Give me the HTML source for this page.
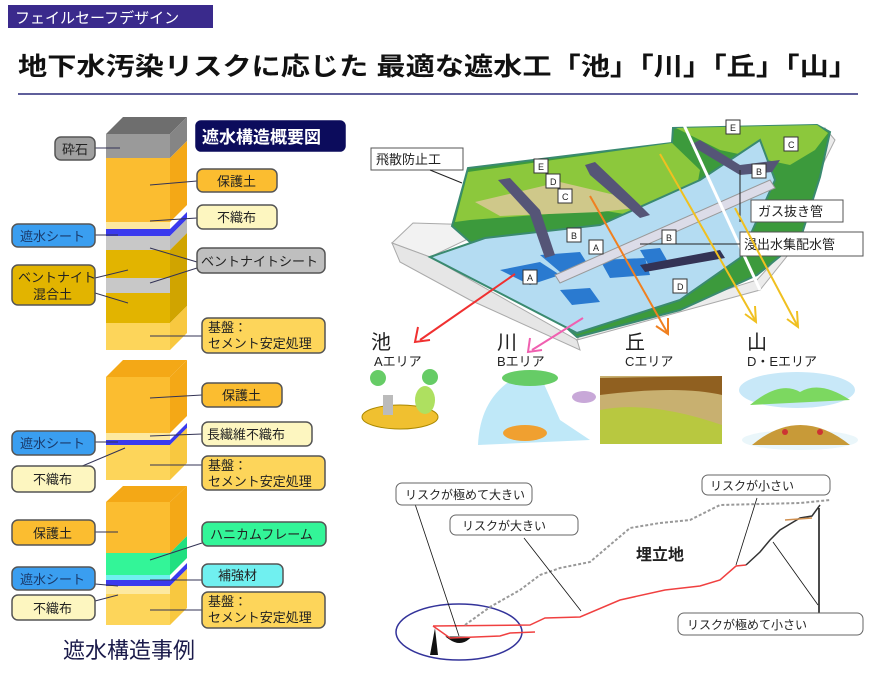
<!DOCTYPE html>
<html><head><meta charset="utf-8"><style>
body{margin:0;background:#fff}
svg text{font-family:"Liberation Sans","Noto Sans CJK JP",sans-serif}
</style></head><body>
<svg width="873" height="675" viewBox="0 0 873 675" xmlns="http://www.w3.org/2000/svg">
<rect x="8" y="5" width="205" height="23" fill="#3a2a8c"/>
<text x="15" y="23" font-size="15" fill="#fff">フェイルセーフデザイン</text>
<text x="18" y="75" font-size="25" font-weight="bold" fill="#111" textLength="840" lengthAdjust="spacingAndGlyphs">地下水汚染リスクに応じた 最適な遮水工「池」「川」「丘」「山」</text>
<line x1="18" y1="94" x2="858" y2="94" stroke="#2a2a7a" stroke-width="1.5"/>

<!-- Block 1 -->
<g>
<polygon points="106,134 123,117 187,117 170,134" fill="#6e6e6e"/>
<rect x="106" y="134" width="64" height="24" fill="#9a9a9a"/>
<polygon points="170,134 187,117 187,141 170,158" fill="#858585"/>
<rect x="106" y="158" width="64" height="64" fill="#fbbd30"/>
<polygon points="170,158 187,141 187,205 170,222" fill="#f4a816"/>
<rect x="106" y="222" width="64" height="7" fill="#fde9a0"/>
<rect x="106" y="229" width="64" height="7" fill="#3a3aee"/>
<polygon points="170,229 187,212 187,219 170,236" fill="#3a3aee"/>
<rect x="106" y="236" width="64" height="14" fill="#c8c8c8"/>
<polygon points="170,236 187,219 187,233 170,250" fill="#b8b8b8"/>
<rect x="106" y="250" width="64" height="28" fill="#e2b400"/>
<rect x="106" y="278" width="64" height="15" fill="#c8c8c8"/>
<rect x="106" y="293" width="64" height="30" fill="#e2b400"/>
<polygon points="170,250 187,233 187,306 170,323" fill="#d0a400"/>
<rect x="106" y="323" width="64" height="27" fill="#fdd55a"/>
<polygon points="170,323 187,306 187,333 170,350" fill="#f8c840"/>
</g>
<!-- Block 2 -->
<g>
<polygon points="106,377 123,360 187,360 170,377" fill="#f4a816"/>
<rect x="106" y="377" width="64" height="56" fill="#fbbd30"/>
<polygon points="170,377 187,360 187,416 170,433" fill="#f4a816"/>
<rect x="106" y="433" width="64" height="7" fill="#fde9a0"/>
<rect x="106" y="440" width="64" height="5" fill="#3a3aee"/>
<polygon points="170,440 187,423 187,428 170,445" fill="#3a3aee"/>
<rect x="106" y="445" width="64" height="35" fill="#fdd55a"/>
<polygon points="170,445 187,428 187,463 170,480" fill="#f8c840"/>
</g>
<!-- Block 3 -->
<g>
<polygon points="106,502 123,486 187,486 170,502" fill="#f4a816"/>
<rect x="106" y="502" width="64" height="51" fill="#fbbd30"/>
<polygon points="170,502 187,486 187,536 170,553" fill="#f4a816"/>
<rect x="106" y="553" width="64" height="22" fill="#33f598"/>
<polygon points="170,553 187,536 187,558 170,575" fill="#20e080"/>
<rect x="106" y="575" width="64" height="5" fill="#70f0f0"/>
<rect x="106" y="580" width="64" height="6" fill="#3a3aee"/>
<polygon points="170,580 187,563 187,569 170,586" fill="#3a3aee"/>
<rect x="106" y="586" width="64" height="8" fill="#fde9a0"/>
<rect x="106" y="594" width="64" height="31" fill="#fdd55a"/>
<polygon points="170,586 187,569 187,608 170,625" fill="#f8c840"/>
</g>

<g stroke="#333355" stroke-width="1" fill="none">
<line x1="95" y1="148" x2="120" y2="148"/>
<line x1="150" y1="185" x2="197" y2="181"/>
<line x1="150" y1="221" x2="197" y2="218"/>
<line x1="95" y1="235" x2="118" y2="235"/>
<line x1="150" y1="248" x2="197" y2="262"/>
<line x1="150" y1="283" x2="197" y2="268"/>
<line x1="95" y1="278" x2="128" y2="270"/>
<line x1="95" y1="293" x2="128" y2="303"/>
<line x1="150" y1="336" x2="202" y2="336"/>
<line x1="150" y1="398" x2="202" y2="395"/>
<line x1="150" y1="436" x2="202" y2="434"/>
<line x1="95" y1="442" x2="118" y2="442"/>
<line x1="80" y1="467" x2="125" y2="448"/>
<line x1="150" y1="465" x2="202" y2="465"/>
<line x1="95" y1="532" x2="118" y2="532"/>
<line x1="150" y1="560" x2="202" y2="543"/>
<line x1="150" y1="580" x2="202" y2="580"/>
<line x1="95" y1="584" x2="118" y2="586"/>
<line x1="95" y1="601" x2="118" y2="595"/>
<line x1="150" y1="610" x2="202" y2="610"/>
</g>

<g stroke="#555" stroke-width="1.5" font-size="13">
<rect x="55" y="137" width="40" height="23" rx="6" fill="#a0a0a0"/>
<rect x="196" y="121" width="149" height="30" rx="5" fill="#0c0c5c" stroke="#0c0c5c"/>
<rect x="197" y="169" width="80" height="23" rx="6" fill="#fbbd30"/>
<rect x="197" y="205" width="80" height="24" rx="6" fill="#fdf6c0"/>
<rect x="12" y="224" width="83" height="23" rx="6" fill="#3a9ef0"/>
<rect x="197" y="248" width="128" height="25" rx="6" fill="#bfbfbf"/>
<rect x="12" y="265" width="83" height="40" rx="6" fill="#e2b400"/>
<rect x="202" y="318" width="123" height="35" rx="6" fill="#fdd55a"/>
<rect x="202" y="383" width="80" height="24" rx="6" fill="#fbbd30"/>
<rect x="202" y="422" width="110" height="24" rx="6" fill="#fdf6c0"/>
<rect x="202" y="456" width="123" height="34" rx="6" fill="#fdd55a"/>
<rect x="12" y="431" width="83" height="24" rx="6" fill="#3a9ef0"/>
<rect x="12" y="466" width="83" height="26" rx="6" fill="#fdf6c0"/>
<rect x="12" y="520" width="83" height="25" rx="6" fill="#fbbd30"/>
<rect x="202" y="522" width="124" height="24" rx="6" fill="#33f598"/>
<rect x="202" y="564" width="81" height="23" rx="6" fill="#70f0f0"/>
<rect x="202" y="592" width="123" height="36" rx="6" fill="#fdd55a"/>
<rect x="12" y="567" width="83" height="23" rx="6" fill="#3a9ef0"/>
<rect x="12" y="595" width="83" height="25" rx="6" fill="#fdf6c0"/>
</g>
<g font-size="13" fill="#222">
<text x="62" y="154">砕石</text>
<text x="202" y="143" font-size="17" fill="#fff" font-weight="bold">遮水構造概要図</text>
<text x="217" y="186">保護土</text>
<text x="217" y="222">不織布</text>
<text x="20" y="241" fill="#1a3a6a">遮水シート</text>
<text x="201" y="266">ベントナイトシート</text>
<text x="18" y="282">ベントナイト</text>
<text x="33" y="299">混合土</text>
<text x="208" y="332">基盤：</text>
<text x="208" y="348">セメント安定処理</text>
<text x="222" y="400">保護土</text>
<text x="207" y="439">長繊維不織布</text>
<text x="208" y="470">基盤：</text>
<text x="208" y="486">セメント安定処理</text>
<text x="20" y="448" fill="#1a3a6a">遮水シート</text>
<text x="33" y="484">不織布</text>
<text x="33" y="538">保護土</text>
<text x="210" y="539">ハニカムフレーム</text>
<text x="218" y="580">補強材</text>
<text x="208" y="606">基盤：</text>
<text x="208" y="622">セメント安定処理</text>
<text x="20" y="584" fill="#1a3a6a">遮水シート</text>
<text x="33" y="613">不織布</text>
</g>
<text x="63" y="658" font-size="22" fill="#1a1a4a">遮水構造事例</text>

<!-- landfill -->
<g>
<polygon points="392,243 413,223 480,225 470,238 430,257" fill="#f2f2f2" stroke="#aaa"/>
<polygon points="392,243 430,257 577,340 580,350 470,300 400,262" fill="#e6e6e6" stroke="#aaa"/>
<polygon points="577,340 760,290 800,240 815,180 835,140 825,128 815,175 795,238 757,280 580,335" fill="#ececec" stroke="#aaa"/>
<polygon points="452,226 468,168 672,143 673,128 817,125 830,132 820,177 800,240 757,275 680,310 577,337" fill="#3c9a3c" stroke="#3a8a70" stroke-width="2"/>
<polygon points="455,222 468,172 672,143 700,170 690,225 600,210 470,220" fill="#8cc83c"/>
<polygon points="475,202 560,182 615,195 645,207 600,212 500,216" fill="#cfc88a"/>
<polygon points="676,128 817,125 828,133 815,150 790,165 720,150" fill="#8cc83c"/>
<polygon points="430,257 485,238 600,225 700,180 760,140 775,180 740,258 680,300 577,333" fill="#b4dcf2" stroke="#3a8a70" stroke-width="2"/>
<polygon points="500,270 540,262 560,275 530,285" fill="#2a7ad0"/>
<polygon points="540,255 580,252 590,268 560,272" fill="#2a7ad0"/>
<polygon points="600,260 645,258 650,275 610,278" fill="#2a7ad0"/>
<polygon points="560,290 590,288 600,302 572,305" fill="#2a7ad0"/>
<polygon points="640,250 660,248 668,262 648,264" fill="#2a7ad0"/>
<polygon points="498,180 510,178 540,210 555,255 545,258 530,215" fill="#555577"/>
<polygon points="585,165 595,162 640,205 650,215 640,218 590,175" fill="#555577"/>
<polygon points="690,145 700,140 740,165 780,160 772,172 740,175" fill="#555577"/>
<polygon points="555,275 770,180 775,188 560,283" fill="#dcdce8" stroke="#999"/>
<polygon points="640,265 720,250 725,258 645,272" fill="#333355"/>
<line x1="684" y1="125" x2="760" y2="290" stroke="#fff" stroke-width="3"/>
</g>
<g font-size="9" fill="#222" stroke="#333" stroke-width="1">
<rect x="534" y="159" width="14" height="14" fill="#fff"/><text x="538" y="170" stroke="none">E</text>
<rect x="546" y="174" width="14" height="14" fill="#fff"/><text x="550" y="185" stroke="none">D</text>
<rect x="558" y="189" width="14" height="14" fill="#fff"/><text x="562" y="200" stroke="none">C</text>
<rect x="567" y="228" width="14" height="14" fill="#fff"/><text x="571" y="239" stroke="none">B</text>
<rect x="589" y="240" width="14" height="14" fill="#fff"/><text x="593" y="251" stroke="none">A</text>
<rect x="523" y="270" width="14" height="14" fill="#fff"/><text x="527" y="281" stroke="none">A</text>
<rect x="662" y="230" width="14" height="14" fill="#fff"/><text x="666" y="241" stroke="none">B</text>
<rect x="673" y="279" width="14" height="14" fill="#fff"/><text x="677" y="290" stroke="none">D</text>
<rect x="726" y="120" width="14" height="14" fill="#fff"/><text x="730" y="131" stroke="none">E</text>
<rect x="784" y="137" width="14" height="14" fill="#fff"/><text x="788" y="148" stroke="none">C</text>
<rect x="752" y="164" width="14" height="14" fill="#fff"/><text x="756" y="175" stroke="none">B</text>
</g>
<g font-size="13" fill="#222" stroke="#555" stroke-width="1">
<rect x="371" y="148" width="92" height="22" fill="#fff"/><text x="376" y="164" stroke="none">飛散防止工</text>
<rect x="751" y="200" width="92" height="22" fill="#fff"/><text x="758" y="216" stroke="none">ガス抜き管</text>
<rect x="740" y="232" width="123" height="24" fill="#fff"/><text x="744" y="249" stroke="none">浸出水集配水管</text>
</g>
<g stroke="#222" fill="none"><line x1="430" y1="170" x2="462" y2="183"/><line x1="740" y1="170" x2="740" y2="222"/><line x1="640" y1="244" x2="740" y2="244"/></g>
<g fill="none" stroke-width="2">
<path d="M515,274 L420,340" stroke="#f03030"/><path d="M418,327 L415,342 L430,340" stroke="#f03030"/>
<path d="M583,318 L532,350" stroke="#f060b0"/><path d="M530,338 L528,352 L542,350" stroke="#f060b0"/>
<path d="M590,196 L667,332" stroke="#f08020"/><path d="M668,318 L668,334 L656,326" stroke="#f08020"/>
<path d="M660,154 L755,320" stroke="#f0c020"/><path d="M755,306 L756,322 L745,314" stroke="#f0c020"/>
<path d="M735,208 L797,325" stroke="#f0c020"/><path d="M797,311 L798,327 L787,319" stroke="#f0c020"/>
</g>
<g font-size="20" fill="#222"><text x="371" y="349">池</text><text x="497" y="349">川</text><text x="625" y="349">丘</text><text x="747" y="349">山</text></g>
<g font-size="13" fill="#222"><text x="374" y="366">Aエリア</text><text x="497" y="366">Bエリア</text><text x="625" y="366">Cエリア</text><text x="747" y="366">D・Eエリア</text></g>
<g>
<circle cx="378" cy="378" r="8" fill="#6c6"/><circle cx="430" cy="377" r="8" fill="#6c6"/>
<ellipse cx="400" cy="417" rx="38" ry="12" fill="#f0c030" stroke="#a80"/>
<ellipse cx="425" cy="400" rx="10" ry="14" fill="#aee060"/>
<rect x="383" y="395" width="10" height="20" fill="#bbb"/>
<path d="M478,445 Q480,395 520,375 L540,375 L560,420 L590,440 Z" fill="#bfe8f8"/>
<ellipse cx="530" cy="378" rx="28" ry="8" fill="#6c6"/>
<ellipse cx="525" cy="433" rx="22" ry="8" fill="#f0a030"/>
<ellipse cx="584" cy="397" rx="12" ry="6" fill="#c8a8d8"/>
<rect x="600" y="376" width="122" height="68" fill="#c8b070"/>
<path d="M600,410 Q650,400 722,425 L722,444 L600,444 Z" fill="#b8c840"/>
<path d="M600,378 L722,376 L722,395 Q680,385 600,395 Z" fill="#906020"/>
<ellipse cx="797" cy="390" rx="58" ry="18" fill="#c8e8f8"/>
<path d="M750,405 Q780,380 800,392 Q820,380 850,400 Z" fill="#7cd860"/>
<ellipse cx="800" cy="440" rx="58" ry="10" fill="#eaf6fa"/>
<path d="M752,445 Q800,405 850,445 Z" fill="#c89a38"/>
<circle cx="785" cy="432" r="3" fill="#c33"/><circle cx="820" cy="432" r="3" fill="#c33"/>
</g>

<ellipse cx="459" cy="632" rx="63" ry="28" fill="none" stroke="#33339a" stroke-width="1.5"/>
<polygon points="430,655 435,628 438,655" fill="#111"/>
<path d="M450,638 Q460,645 468,638 Z" fill="#111" stroke="#111" stroke-width="3"/>
<path d="M433,626 L530,625 L545,618 L580,617 L620,600 L665,590 L700,586 L720,580 L736,566 L746,565" fill="none" stroke="#f04040" stroke-width="1.5"/>
<path d="M433,626 L450,638 L500,636 L510,633 L535,632" fill="none" stroke="#f04040" stroke-width="1.5"/>
<path d="M465,625 L490,607 L520,590 L540,575 L560,568 L590,562 L610,545 L630,528 L660,523 L690,520 L720,505 L800,503 L830,500" fill="none" stroke="#999" stroke-width="2" stroke-dasharray="3,2"/>
<path d="M746,565 L760,552 L770,540 L780,530 L800,518 L812,516 L820,505" fill="none" stroke="#333" stroke-width="1.5"/>
<path d="M785,520 L812,518" stroke="#d09050" stroke-width="1.5"/>
<text x="636" y="560" font-size="16" font-weight="bold" fill="#222">埋立地</text>
<g stroke="#111" stroke-width="0.8">
<line x1="413" y1="498" x2="459" y2="636"/>
<line x1="524" y1="538" x2="581" y2="611"/>
<line x1="757" y1="498" x2="736" y2="565"/>
<line x1="818" y1="605" x2="773" y2="542"/>
</g>
<line x1="819" y1="615" x2="819" y2="508" stroke="#111" stroke-width="1.5"/>
<g font-size="12" fill="#222" stroke="#666" stroke-width="1">
<rect x="396" y="483" width="136" height="22" rx="6" fill="#fff"/><text x="405" y="499" stroke="none">リスクが極めて大きい</text>
<rect x="450" y="515" width="128" height="20" rx="6" fill="#fff"/><text x="462" y="530" stroke="none">リスクが大きい</text>
<rect x="702" y="475" width="128" height="20" rx="6" fill="#fff"/><text x="710" y="490" stroke="none">リスクが小さい</text>
<rect x="678" y="613" width="185" height="22" rx="6" fill="#fff"/><text x="687" y="629" stroke="none">リスクが極めて小さい</text>
</g>
</svg>
</body></html>
